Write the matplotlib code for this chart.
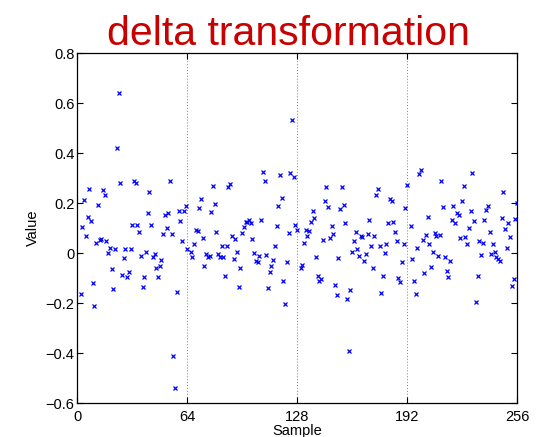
import numpy as np
import matplotlib
matplotlib.use("Agg")
import matplotlib.pyplot as plt
from matplotlib.ticker import FuncFormatter

# Delta-transformed signal, stored per 64-sample block.
# The first sample of every block keeps its raw (large) value and lies
# outside the displayed range, so each block lists samples 2..64 of the block.
block_starts = [1, 65, 129, 193]

block_1 = [
    -0.163, 0.106, 0.214, 0.069, 0.145, 0.257, 0.130, -0.118, -0.210, 0.042,
    0.192, 0.052, 0.058, 0.252, 0.234, 0.049, 0.001, 0.022, -0.064, -0.142,
    0.017, 0.422, 0.641, 0.280, -0.088, -0.021, 0.016, -0.094, -0.075, 0.016,
    0.112, 0.288, 0.281, 0.112, 0.084, -0.012, -0.135, -0.096, 0.006, 0.161,
    0.246, 0.112, -0.015, -0.004, -0.059, -0.097, -0.053, -0.028, 0.077, 0.154,
    0.101, 0.160, 0.289, 0.077, -0.410, -0.540, -0.156, 0.167, 0.130, 0.049,
    0.167, 0.190, 0.015,
]
block_2 = [
    0.005, -0.017, 0.035, 0.093, 0.088, 0.182, 0.218, 0.062, -0.053, -0.004,
    -0.017, -0.012, 0.165, 0.270, 0.197, 0.084, -0.004, -0.015, 0.027, -0.015,
    -0.091, 0.030, 0.266, 0.276, 0.070, -0.024, 0.056, 0.005, -0.136, -0.058,
    0.081, 0.106, 0.126, 0.123, 0.133, 0.122, 0.058, 0.002, -0.031, -0.035,
    -0.010, 0.133, 0.324, 0.287, -0.008, -0.139, -0.075, -0.052, -0.027, 0.030,
    0.108, 0.190, 0.313, 0.222, -0.112, -0.202, -0.034, 0.079, 0.320, 0.533,
    0.306, 0.113, 0.093,
]
block_3 = [
    -0.058, -0.047, 0.040, 0.093, 0.070, 0.087, 0.123, 0.167, 0.139, -0.015,
    -0.092, -0.112, -0.104, 0.054, 0.207, 0.263, 0.184, 0.060, 0.108, 0.077,
    -0.128, -0.167, -0.019, 0.176, 0.263, 0.192, 0.120, -0.184, -0.390, -0.147,
    0.005, 0.049, 0.085, 0.018, -0.013, 0.069, 0.066, -0.031, -0.003, 0.076,
    0.132, 0.029, -0.059, 0.070, 0.233, 0.257, 0.029, -0.160, -0.092, 0.000,
    0.038, 0.119, 0.217, 0.209, 0.125, 0.085, 0.050, -0.100, -0.115, -0.035,
    0.038, 0.182, 0.273,
]
block_4 = [
    0.110, -0.024, -0.112, -0.162, 0.022, 0.317, 0.333, 0.053, -0.078, 0.072,
    0.144, 0.036, -0.056, 0.005, 0.079, 0.070, -0.011, 0.071, 0.287, 0.184,
    -0.015, -0.073, -0.097, -0.032, 0.134, 0.189, 0.119, 0.162, 0.153, 0.062,
    0.208, 0.270, 0.066, 0.036, 0.100, 0.169, 0.320, 0.128, -0.196, -0.091,
    0.050, -0.008, 0.040, 0.132, 0.172, 0.190, 0.083, -0.005, 0.038, 0.003,
    -0.017, -0.022, -0.033, 0.141, 0.243, 0.097, 0.022, 0.120, 0.065, -0.130,
    -0.103, 0.135, 0.200,
]

x_ticks = [0, 64, 128, 192, 256]
y_ticks = [-0.6, -0.4, -0.2, 0, 0.2, 0.4, 0.6, 0.8]

blocks = [block_1, block_2, block_3, block_4]
samples = np.concatenate([start + 1 + np.arange(len(b)) for start, b in zip(block_starts, blocks)])
values = np.concatenate([np.asarray(b) for b in blocks])

plt.rcParams["font.family"] = ["Liberation Sans", "DejaVu Sans"]

fig = plt.figure(figsize=(5.42, 4.37), dpi=100)
ax = fig.add_axes([0.1426, 0.0778, 0.9539 - 0.1426, 0.878 - 0.0778])

ax.plot(samples, values, linestyle="none", marker="x", color="#0000ff",
        markersize=3.0, markeredgewidth=0.9)

ax.set_xlim(0, 256)
ax.set_ylim(-0.6, 0.8)
ax.set_xticks(x_ticks)
ax.set_yticks(y_ticks)
ax.yaxis.set_major_formatter(FuncFormatter(lambda v, p: ("%g" % round(v, 2)).replace("-", "\u2212")))

ax.xaxis.grid(True, linestyle=(0, (1, 2)), color="#808080", linewidth=0.7)
ax.set_axisbelow(True)

ax.tick_params(axis="both", direction="in", length=4, width=0.8,
               top=True, right=True, labelsize=10.5, colors="black")
ax.tick_params(axis="x", pad=5)
ax.tick_params(axis="y", pad=2)
for sp in ax.spines.values():
    sp.set_linewidth(0.9)

ax.set_xlabel("Sample", fontsize=10.5, labelpad=0)
ax.set_ylabel("Value", fontsize=10.5, labelpad=4)
ax.set_title("delta transformation", fontsize=29.5, color="#c80000", pad=6, x=0.48)

fig.savefig("out.png", dpi=100)
